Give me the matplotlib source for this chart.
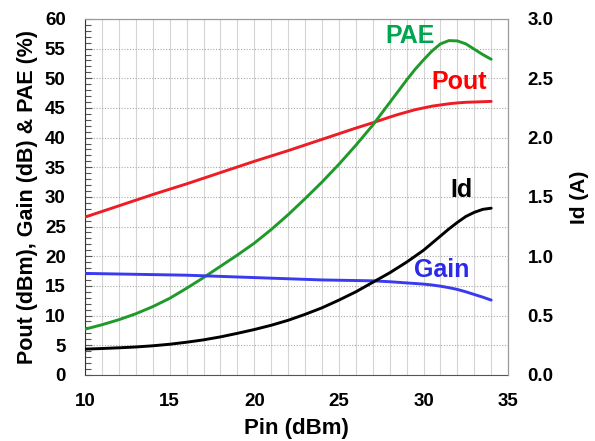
import matplotlib
matplotlib.use("Agg")
import matplotlib.pyplot as plt
from matplotlib.ticker import MultipleLocator, FormatStrFormatter

plt.rcParams['font.family'] = ['Liberation Sans', 'DejaVu Sans']
plt.rcParams['font.weight'] = 'bold'

pin = [10, 11, 12, 13, 14, 15, 16, 17, 18, 19, 20, 21, 22, 23, 24, 25, 26, 27, 28,
       28.5, 29, 29.5, 30, 30.5, 31, 31.5, 32, 32.5, 33, 33.5, 34]
pout = [26.6, 27.55, 28.5, 29.45, 30.4, 31.3, 32.2, 33.15, 34.1, 35.05, 36.0, 36.9, 37.8, 38.75, 39.7, 40.65, 41.6, 42.5, 43.45,
        43.9, 44.3, 44.7, 45.0, 45.3, 45.5, 45.7, 45.85, 45.95, 46.0, 46.05, 46.1]
pae = [7.7, 8.45, 9.3, 10.3, 11.5, 12.9, 14.6, 16.4, 18.3, 20.2, 22.2, 24.5, 27.0, 29.7, 32.5, 35.5, 38.7, 42.1, 45.9,
       47.8, 49.7, 51.5, 53.1, 54.6, 55.8, 56.35, 56.3, 55.8, 54.9, 54.0, 53.2]
gain = [17.1, 17.05, 17.0, 16.95, 16.9, 16.85, 16.8, 16.7, 16.6, 16.5, 16.4, 16.3, 16.2, 16.1, 16.0, 15.95, 15.9, 15.85, 15.7,
        15.6, 15.5, 15.4, 15.3, 15.15, 14.95, 14.7, 14.4, 14.0, 13.55, 13.1, 12.6]
id_a = [0.217, 0.222, 0.228, 0.235, 0.245, 0.258, 0.275, 0.295, 0.32, 0.35, 0.382, 0.418, 0.46, 0.51, 0.565, 0.63, 0.70, 0.78, 0.86,
        0.905, 0.95, 1.0, 1.05, 1.11, 1.17, 1.23, 1.285, 1.335, 1.37, 1.395, 1.405]

fig = plt.figure(figsize=(5.95, 4.41), dpi=100)
ax = fig.add_axes([0.143, 0.150, 0.711, 0.807])
ax2 = ax.twinx()

ax.set_xlim(10, 35)
ax.set_ylim(0, 60)
ax2.set_ylim(0, 3.0)
ax.xaxis.set_major_locator(MultipleLocator(5))
ax.xaxis.set_minor_locator(MultipleLocator(1))
ax.yaxis.set_major_locator(MultipleLocator(5))
ax.yaxis.set_minor_locator(MultipleLocator(1))
ax2.yaxis.set_major_locator(MultipleLocator(0.5))
ax2.yaxis.set_major_formatter(FormatStrFormatter('%.1f'))

ax.grid(True, which='both', axis='x', color='#d4d4d4', lw=0.8, ls='-')
ax.grid(True, which='major', axis='y', color='#a8a8a8', lw=0.8, ls=(0, (1, 1.5)))
ax.set_axisbelow(True)

lw = 2.1
kw = dict(lw=lw, solid_joinstyle='round', solid_capstyle='round', zorder=3)
ax.plot(pin, pout, color='#ee1c24', **kw)
ax.plot(pin, pae, color='#1f9a2a', **kw)
ax.plot(pin, gain, color='#3a3af0', **kw)
ax2.plot(pin, id_a, color='black', **kw)

for s in ['top', 'right']:
    ax.spines[s].set_color('#9a9a9a')
    ax2.spines[s].set_color('#9a9a9a')
ax.spines['left'].set_color('#333333')
ax.spines['bottom'].set_color('#555555')
ax2.spines['left'].set_visible(False)
ax2.spines['bottom'].set_visible(False)

ax.tick_params(axis='x', which='both', length=0, pad=13, labelsize=13.5)
ax.tick_params(axis='y', which='major', direction='in', length=5, width=0.8, color='#555555', pad=14, labelsize=13.5)
ax.tick_params(axis='y', which='minor', direction='in', length=4, width=0.8, color='#555555')
ax2.tick_params(axis='y', which='both', length=0, pad=14, labelsize=13.5)

for lab in ax.get_xticklabels() + ax.get_yticklabels() + ax2.get_yticklabels():
    lab.set_fontweight('bold')

ax.set_xlabel('Pin (dBm)', fontsize=16, fontweight='bold', labelpad=6)
ax.set_ylabel('Pout (dBm), Gain (dB) & PAE (%)', fontsize=15.5, fontweight='bold', labelpad=5)
ax2.set_ylabel('Id (A)', fontsize=15, fontweight='bold', labelpad=12)

ax.text(29.2, 57.2, 'PAE', color='#00a550', fontsize=18, fontweight='bold', ha='center', va='center')
ax.text(32.1, 49.4, 'Pout', color='#ff0000', fontsize=18, fontweight='bold', ha='center', va='center')
ax.text(32.25, 31.2, 'Id', color='black', fontsize=18, fontweight='bold', ha='center', va='center')
ax.text(31.05, 17.7, 'Gain', color='#2a2ae8', fontsize=18, fontweight='bold', ha='center', va='center')

fig.savefig('out.png', dpi=100)
